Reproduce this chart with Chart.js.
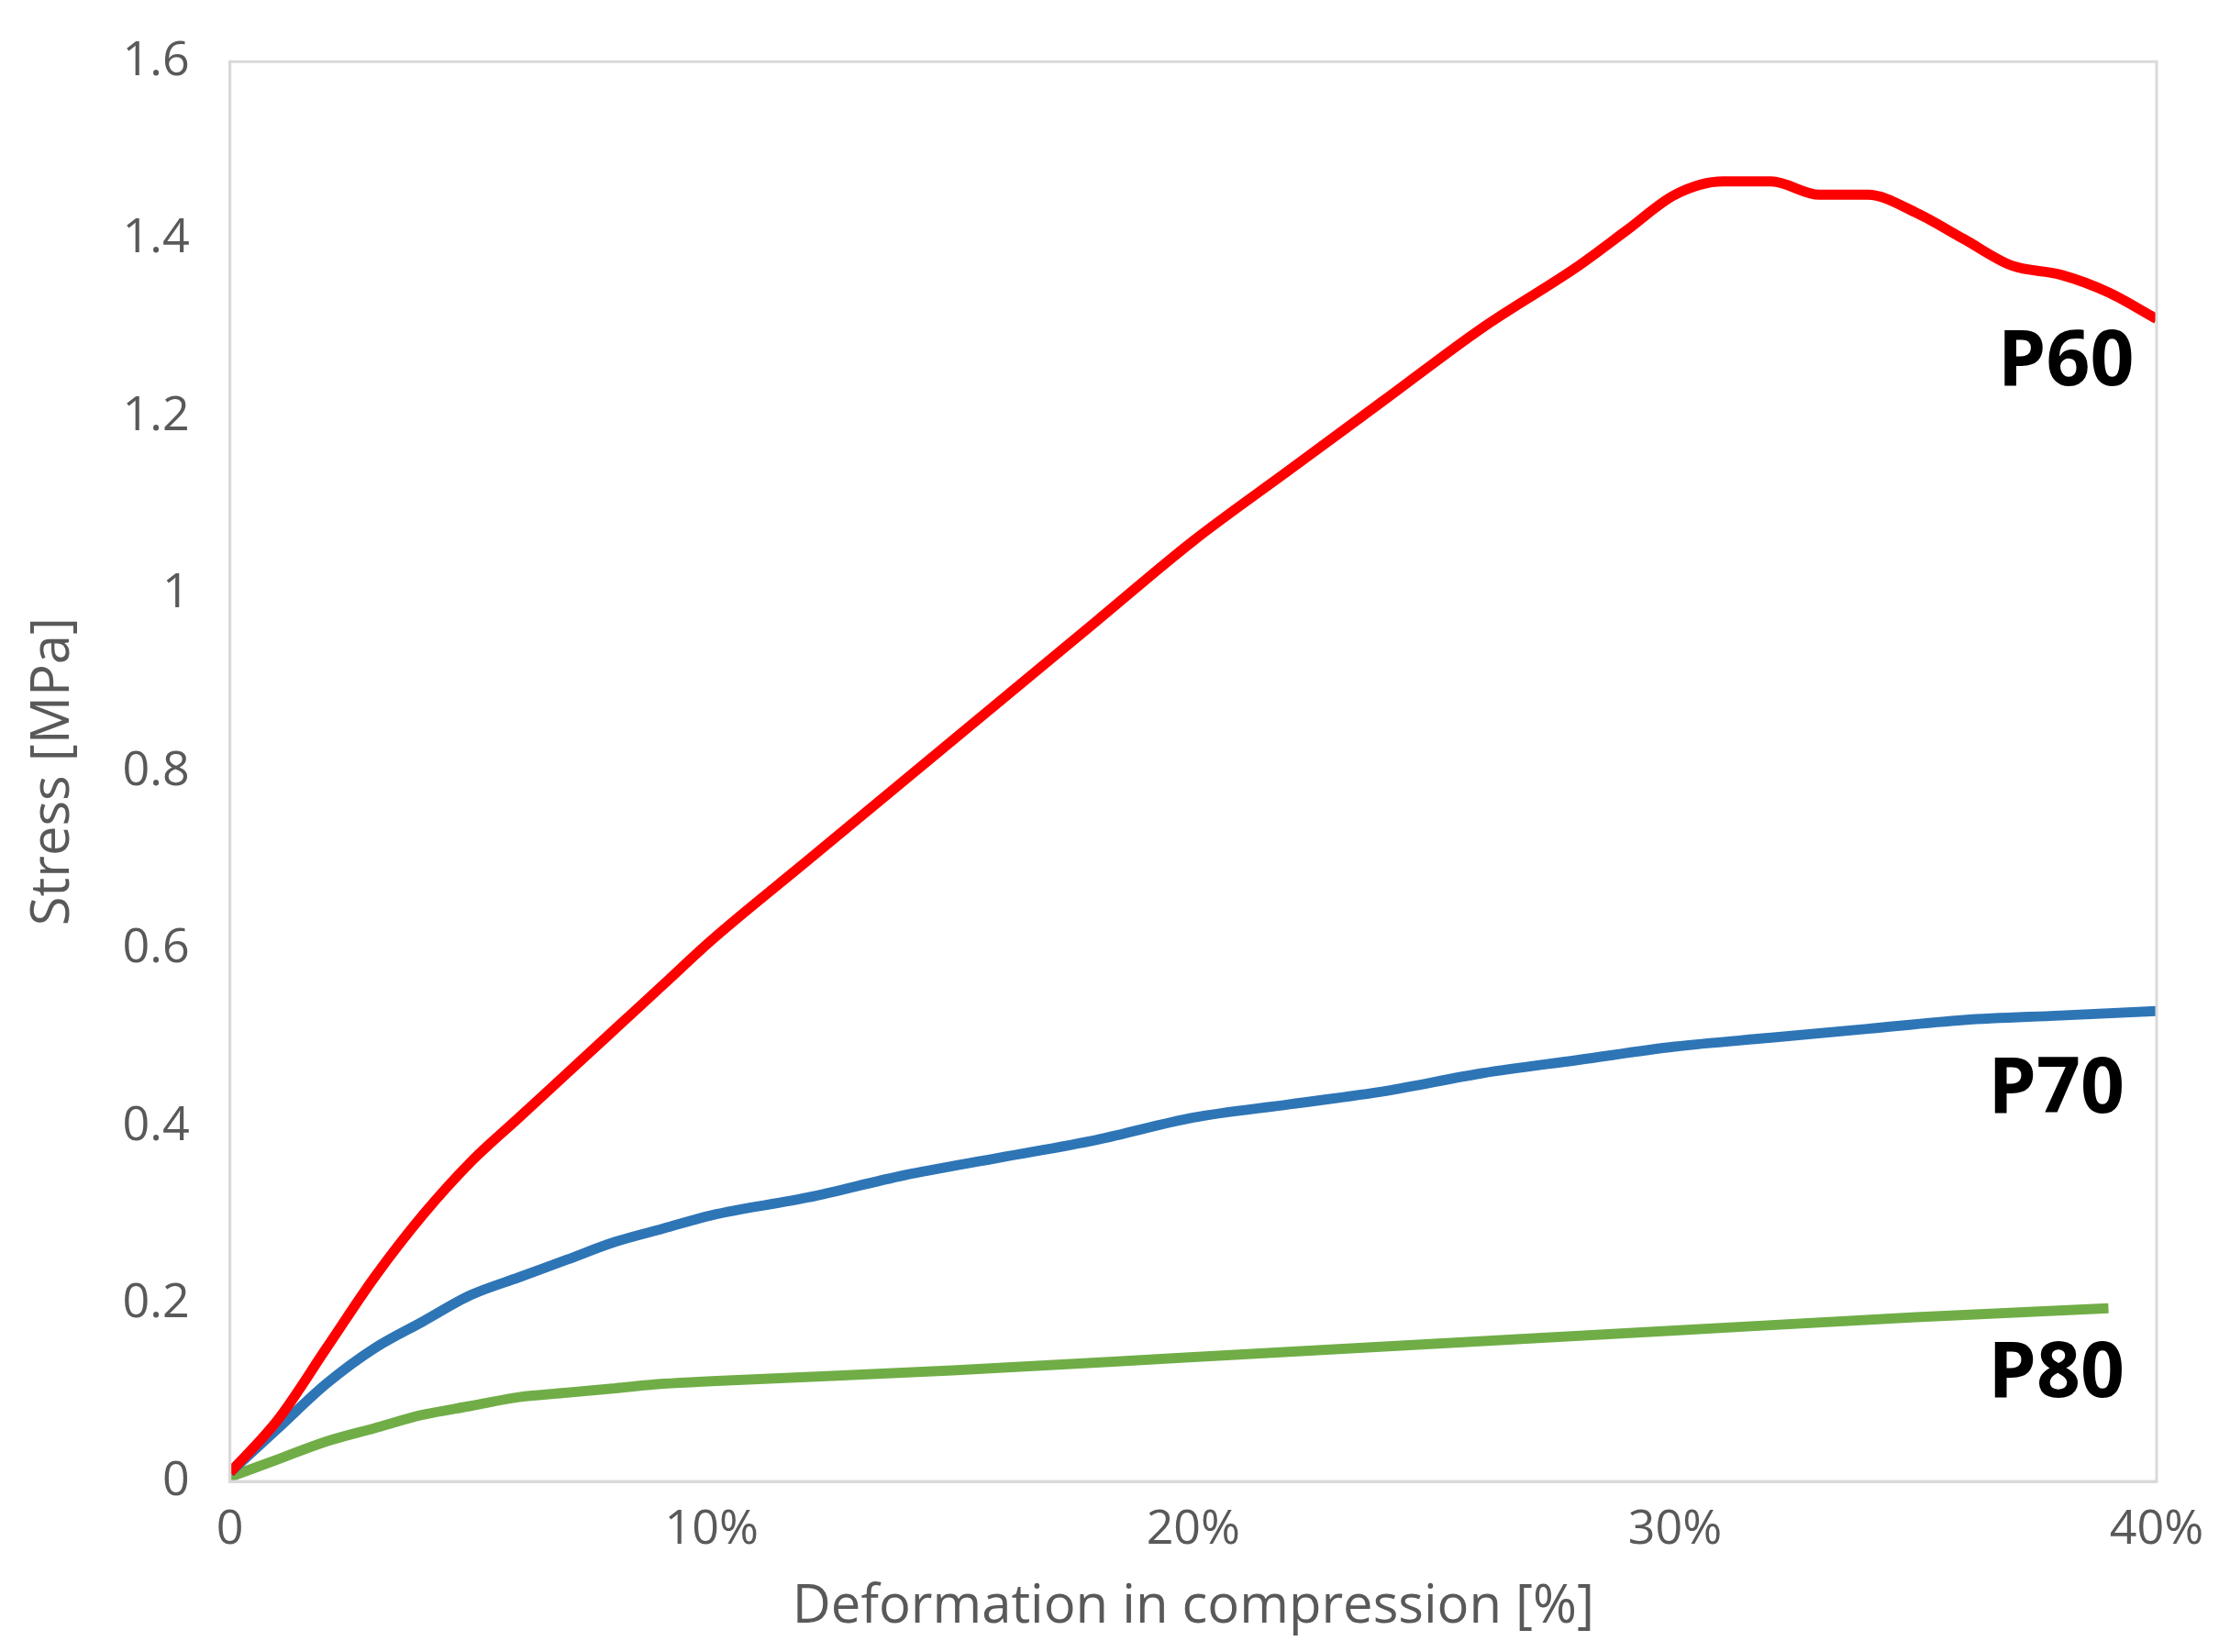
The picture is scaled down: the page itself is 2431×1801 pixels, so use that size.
<!DOCTYPE html>
<html><head><meta charset="utf-8">
<script src="https://cdn.jsdelivr.net/npm/chart.js@4"></script>
<style>html,body{margin:0;padding:0;background:#fff}#wrap{width:2431px;height:1801px}</style>
</head><body><div id="wrap"><canvas id="c"></canvas></div>
<script>
// deformation [%] and stress [MPa]
const xP60 = [0,1,2,3,4,5,6,7,8,9,10,12,14,16,18,20,22,24,26,28,29,30,31,32,33,34,35,36,37,38,39,40];
const yP60 = [0.01,0.07,0.15,0.23,0.3,0.36,0.41,0.46,0.51,0.56,0.61,0.7,0.79,0.88,0.97,1.06,1.14,1.22,1.3,1.37,1.41,1.45,1.465,1.465,1.45,1.45,1.43,1.4,1.37,1.36,1.34,1.31];
const xP70 = [0,1,2,3,4,5,6,7,8,9,10,12,14,16,18,20,22,24,26,28,30,32,34,36,38,40];
const yP70 = [0.01,0.06,0.11,0.15,0.18,0.21,0.23,0.25,0.27,0.285,0.3,0.32,0.345,0.365,0.385,0.41,0.425,0.44,0.46,0.475,0.49,0.5,0.51,0.52,0.525,0.53];
const xP80 = [0,1,2,3,4,5,6,7,8,9,10,15,20,25,30,35,39];
const yP80 = [0.005,0.025,0.045,0.06,0.075,0.085,0.095,0.1,0.105,0.11,0.113,0.125,0.14,0.155,0.17,0.185,0.195];
const seriesNames = ["P60","P70","P80"];
const seriesColors = ["#ff0000","#2e75b6","#70ad47"];
const labelAt = [[36.7,1.26],[36.5,0.44],[36.5,0.12]];

const pts = (xs, ys) => xs.map((x, i) => ({x: x, y: ys[i]}));
const datasets = [[xP60,yP60],[xP70,yP70],[xP80,yP80]].map((d, i) => ({
    label: seriesNames[i],
    data: pts(d[0], d[1]),
    borderColor: seriesColors[i],
    borderWidth: 11,
    pointRadius: 0,
    cubicInterpolationMode: 'monotone'
}));

const seriesLabels = {
    id: 'seriesLabels',
    afterDatasetsDraw(chart) {
        const ctx = chart.ctx, xs = chart.scales.x, ys = chart.scales.y;
        ctx.save();
        ctx.font = 'bold 84px "Open Sans"';
        ctx.fillStyle = '#000';
        ctx.textBaseline = 'middle';
        labelAt.forEach((p, i) => ctx.fillText(seriesNames[i], xs.getPixelForValue(p[0]), ys.getPixelForValue(p[1])));
        ctx.restore();
    }
};

const tickFont = {family: '"Open Sans"', size: 52};
new Chart(document.getElementById('c'), {
    type: 'line',
    data: {datasets: datasets},
    options: {
        responsive: true, maintainAspectRatio: false, animation: false, devicePixelRatio: 1,
        layout: {padding: {top: 40, right: 80, left: 20, bottom: 10}},
        plugins: {legend: {display: false}, tooltip: {enabled: false}},
        scales: {
            x: {
                type: 'linear', min: 0, max: 40,
                grid: {display: false},
                border: {color: '#d9d9d9', width: 3},
                ticks: {stepSize: 10, color: '#595959', font: tickFont, padding: 14,
                    callback: v => v === 0 ? '0' : v + '%'},
                title: {display: true, text: 'Deformation in compression [%]', color: '#595959',
                    font: {family: '"Open Sans"', size: 58}}
            },
            y: {
                min: 0, max: 1.6,
                grid: {display: false},
                border: {color: '#d9d9d9', width: 3},
                ticks: {stepSize: 0.2, color: '#595959', font: tickFont, padding: 36,
                    callback: v => String(+v.toFixed(1))},
                title: {display: true, text: 'Stress [MPa]', color: '#595959',
                    font: {family: '"Open Sans"', size: 58}}
            }
        }
    },
    plugins: [seriesLabels, {
        id: 'frame',
        afterDraw(chart) {
            const a = chart.chartArea, ctx = chart.ctx;
            ctx.save(); ctx.strokeStyle = '#d9d9d9'; ctx.lineWidth = 3;
            ctx.strokeRect(a.left, a.top, a.right - a.left, a.bottom - a.top);
            ctx.restore();
        }
    }]
});
</script></body></html>
